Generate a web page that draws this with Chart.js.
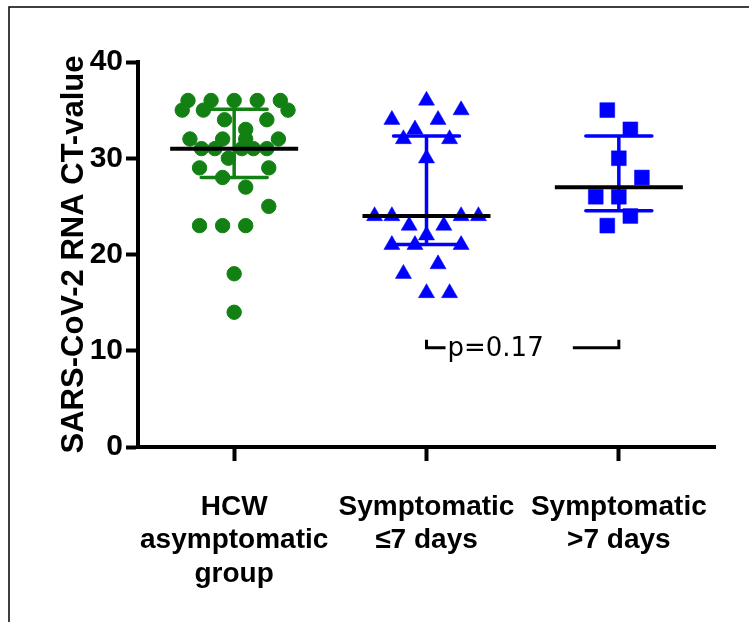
<!DOCTYPE html>
<html>
<head>
<meta charset="utf-8">
<script src="https://cdn.jsdelivr.net/npm/chart.js@4.4.4/dist/chart.umd.min.js"></script>
<style>
  html, body { margin: 0; padding: 0; background: #fff; }
  #chart { display: block; }
</style>
</head>
<body>
<canvas id="chart" width="749" height="622"></canvas>
<script>
// groups along the x axis
const groupLabels = [
    ["HCW", "asymptomatic", "group"],
    ["Symptomatic", "\u22647 days"],
    ["Symptomatic", ">7 days"]
];
const yTicks = [0, 10, 20, 30, 40];

// CT values per group, with the horizontal spread of each dot (in group units)
const hcwValues = [36, 36, 36, 36, 36, 35, 35, 35, 34, 34, 33, 32, 32, 32, 32, 31, 31, 31, 31, 31, 30, 29, 29, 28, 27, 25, 23, 23, 23, 18, 14];
const hcwSpread = [-0.24, -0.12, 0, 0.12, 0.24, -0.27, -0.16, 0.28, -0.05, 0.17, 0.06, -0.23, -0.06, 0.06, 0.23, -0.17, -0.10, 0.04, 0.10, 0.17, -0.03, -0.18, 0.18, -0.06, 0.06, 0.18, -0.18, -0.06, 0.06, 0, 0];

const earlyValues = [36, 35, 34, 34, 33, 32, 32, 30, 24, 24, 24, 24, 23, 23, 22, 21, 21, 21, 19, 18, 16, 16];
const earlySpread = [0, 0.18, -0.18, 0.06, -0.06, -0.12, 0.12, 0, -0.27, -0.18, 0.18, 0.27, -0.09, 0.09, 0, -0.18, -0.06, 0.18, 0.06, -0.12, 0, 0.12];

const lateValues = [35, 33, 30, 28, 26, 26, 24, 23];
const lateSpread = [-0.06, 0.06, 0, 0.12, -0.12, 0, 0.06, -0.06];

// median and interquartile range per group
const medians = [31, 24, 27];
const lowerBars = [28, 21.05, 24.55];
const upperBars = [35.1, 32.3, 32.3];
const groupColors = ["rgb(18,128,18)", "#0000ff", "#0000ff"];

// comparison between the two symptomatic groups
const pGroups = [1, 2];
const pLevel = 10.3;
const pText = "p=0.17";

const FONT = "'Liberation Sans', Arial, sans-serif";

function toPoints(values, spread, group) {
    return values.map((v, i) => ({ x: group + spread[i], y: v }));
}

const framePlugin = {
    id: "frame",
    beforeDraw(chart) {
        const ctx = chart.ctx;
        ctx.save();
        ctx.strokeStyle = "#000";
        ctx.lineWidth = 1.5;
        ctx.beginPath();
        ctx.moveTo(9, chart.height);
        ctx.lineTo(9, 7);
        ctx.lineTo(chart.width, 7);
        ctx.stroke();
        ctx.restore();
    }
};

const summaryPlugin = {
    id: "summary",
    beforeDatasetsDraw(chart) {
        const { ctx, scales: { x, y } } = chart;
        ctx.save();
        ctx.lineWidth = 3.5;
        ctx.lineCap = "round";
        medians.forEach((m, i) => {
            const cx = x.getPixelForValue(i);
            const hi = y.getPixelForValue(upperBars[i]);
            const lo = y.getPixelForValue(lowerBars[i]);
            ctx.strokeStyle = groupColors[i];
            ctx.beginPath();
            ctx.moveTo(cx, hi);
            ctx.lineTo(cx, lo);
            ctx.moveTo(cx - 33, hi);
            ctx.lineTo(cx + 33, hi);
            ctx.moveTo(cx - 33, lo);
            ctx.lineTo(cx + 33, lo);
            ctx.stroke();
        });
        ctx.restore();
    },
    afterDatasetsDraw(chart) {
        const { ctx, scales: { x, y } } = chart;
        ctx.save();
        ctx.strokeStyle = "#000";
        ctx.lineWidth = 4;
        medians.forEach((m, i) => {
            const cx = x.getPixelForValue(i);
            const my = y.getPixelForValue(m);
            ctx.beginPath();
            ctx.moveTo(cx - 64, my);
            ctx.lineTo(cx + 64, my);
            ctx.stroke();
        });

        // p-value bracket
        const py = y.getPixelForValue(pLevel);
        const x1 = x.getPixelForValue(pGroups[0]);
        const x2 = x.getPixelForValue(pGroups[1]);
        ctx.lineWidth = 3;
        ctx.beginPath();
        ctx.moveTo(x1, py - 8);
        ctx.lineTo(x1, py);
        ctx.lineTo(x1 + 19, py);
        ctx.moveTo(x2 - 46, py);
        ctx.lineTo(x2, py);
        ctx.lineTo(x2, py - 8);
        ctx.stroke();
        ctx.fillStyle = "#000";
        ctx.font = "26px 'DejaVu Sans', sans-serif";
        ctx.textAlign = "left";
        ctx.textBaseline = "middle";
        ctx.fillText(pText, x1 + 21, py + 1);
        ctx.restore();
    }
};

new Chart(document.getElementById("chart"), {
    type: "scatter",
    data: {
        datasets: [
            {
                label: "HCW asymptomatic group",
                data: toPoints(hcwValues, hcwSpread, 0),
                pointStyle: "circle",
                pointRadius: 7.2,
                pointBackgroundColor: groupColors[0],
                pointBorderColor: groupColors[0],
                pointBorderWidth: 1
            },
            {
                label: "Symptomatic \u22647 days",
                data: toPoints(earlyValues, earlySpread, 1),
                pointStyle: "triangle",
                pointRadius: 9.3,
                pointBackgroundColor: groupColors[1],
                pointBorderColor: groupColors[1],
                pointBorderWidth: 0.5
            },
            {
                label: "Symptomatic >7 days",
                data: toPoints(lateValues, lateSpread, 2),
                pointStyle: "rect",
                pointRadius: 10.5,
                pointBackgroundColor: groupColors[2],
                pointBorderColor: groupColors[2],
                pointBorderWidth: 0.5
            }
        ]
    },
    options: {
        responsive: false,
        animation: false,
        devicePixelRatio: 1,
        layout: {
            padding: { left: 56, right: 34, top: 62, bottom: 0 }
        },
        plugins: {
            legend: { display: false },
            tooltip: { enabled: false }
        },
        scales: {
            x: {
                type: "linear",
                min: -0.5,
                max: 2.5,
                afterBuildTicks(scale) {
                    scale.ticks = groupLabels.map((_, i) => ({ value: i }));
                },
                afterFit(scale) {
                    scale.height = 175;
                },
                ticks: {
                    autoSkip: false,
                    maxRotation: 0,
                    minRotation: 0,
                    padding: 29,
                    color: "#000",
                    font: { family: FONT, size: 28, weight: "bold", lineHeight: 1.2 },
                    callback(value) {
                        return groupLabels[value] ?? "";
                    }
                },
                grid: {
                    display: true,
                    drawOnChartArea: false,
                    drawTicks: true,
                    tickLength: 14,
                    tickWidth: 4,
                    tickColor: "#000",
                    color: "#000"
                },
                border: { display: true, color: "#000", width: 4 }
            },
            y: {
                type: "linear",
                min: 0,
                max: 40,
                afterBuildTicks(scale) {
                    scale.ticks = yTicks.map(v => ({ value: v }));
                },
                afterFit(scale) {
                    scale.width = 82;
                },
                ticks: {
                    padding: 3,
                    color: "#000",
                    font: { family: FONT, size: 30, weight: "bold" }
                },
                grid: {
                    display: true,
                    drawOnChartArea: false,
                    drawTicks: true,
                    tickLength: 12,
                    tickWidth: 4,
                    tickColor: "#000",
                    color: "#000"
                },
                border: { display: true, color: "#000", width: 4 },
                title: {
                    display: true,
                    text: "SARS-CoV-2 RNA CT-value",
                    color: "#000",
                    padding: 0,
                    font: { family: FONT, size: 31, weight: "bold", lineHeight: 1.2 }
                }
            }
        }
    },
    plugins: [framePlugin, summaryPlugin]
});
</script>
</body>
</html>
